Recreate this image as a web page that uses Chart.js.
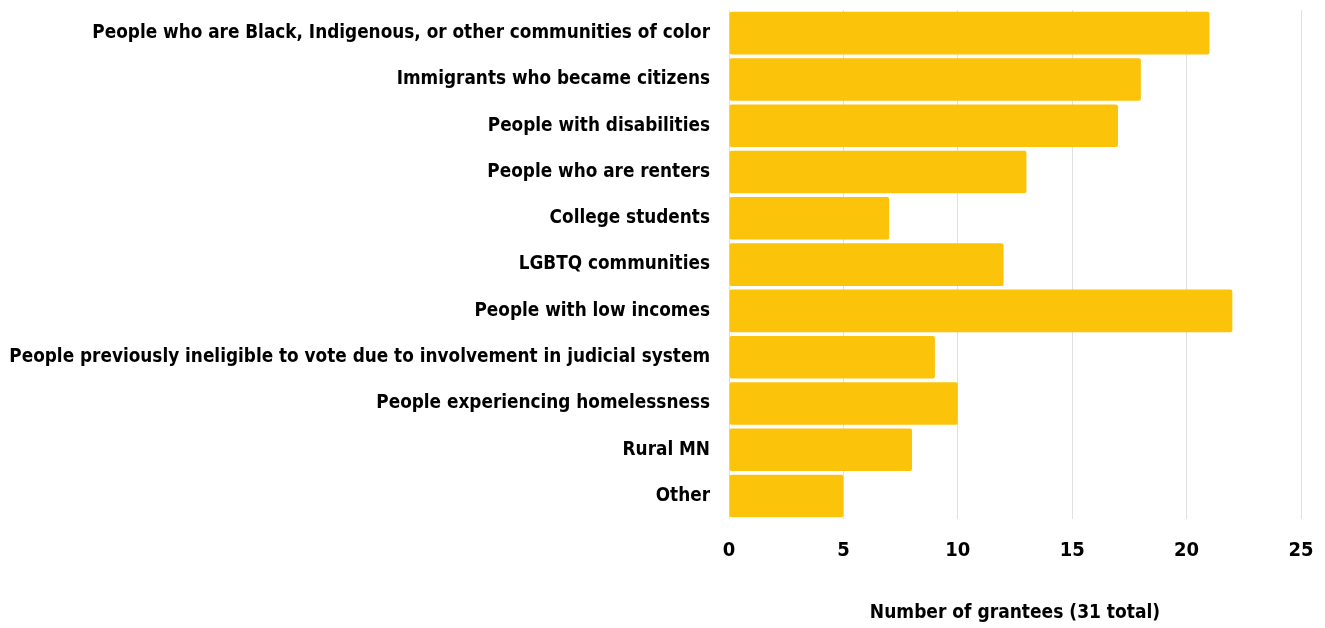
<!DOCTYPE html>
<html>
<head>
<meta charset="utf-8">
<script src="https://cdn.jsdelivr.net/npm/chart.js@4"></script>
<style>
  html, body { margin: 0; padding: 0; background: #ffffff; }
  #wrap { width: 1325px; height: 628px; }
</style>
</head>
<body>
<div id="wrap"><canvas id="chart"></canvas></div>
<script>
const categories = [
  'People who are Black, Indigenous, or other communities of color',
  'Immigrants who became citizens',
  'People with disabilities',
  'People who are renters',
  'College students',
  'LGBTQ communities',
  'People with low incomes',
  'People previously ineligible to vote due to involvement in judicial system',
  'People experiencing homelessness',
  'Rural MN',
  'Other',
]
const grantees = [21, 18, 17, 13, 7, 12, 22, 9, 10, 8, 5]
const xTitle = 'Number of grantees (31 total)'

const FONT = "'Liberation Sans Narrow', 'DejaVu Sans Condensed', 'Roboto', sans-serif"

Chart.defaults.font.family = FONT
Chart.defaults.font.weight = 'bold'
Chart.defaults.color = '#000000'

new Chart(document.getElementById('chart'), {
  type: 'bar',
  data: {
    labels: categories,
    datasets: [{
      data: grantees,
      backgroundColor: '#fbc30a',
      borderRadius: 2,
      borderSkipped: false,
      barPercentage: 0.92,
      categoryPercentage: 1,
    }],
  },
  options: {
    indexAxis: 'y',
    responsive: true,
    maintainAspectRatio: false,
    animation: false,
    layout: { padding: { top: 10, right: 24, bottom: 4, left: 0 } },
    plugins: { legend: { display: false }, tooltip: { enabled: false } },
    scales: {
      x: {
        min: 0,
        max: 25,
        afterFit: s => { s.paddingLeft = 0; s.paddingRight = 0 },
        ticks: { stepSize: 5, padding: 20, font: { size: 20, weight: 'bold' }, color: '#000' },
        grid: { color: '#e0e0e0', drawTicks: false },
        border: { display: false },
        title: {
          display: true,
          text: xTitle,
          font: { size: 19, weight: 'bold' },
          color: '#000',
          padding: { top: 18, bottom: 0 },
        },
      },
      y: {
        afterFit: s => { s.width = 729; s.paddingTop = 0; s.paddingBottom = 0 },
        ticks: { padding: 19, font: { size: 18.8, weight: 'bold' }, color: '#000' },
        grid: { display: false, drawTicks: false },
        border: { display: false },
      },
    },
  },
})
</script>
</body>
</html>
